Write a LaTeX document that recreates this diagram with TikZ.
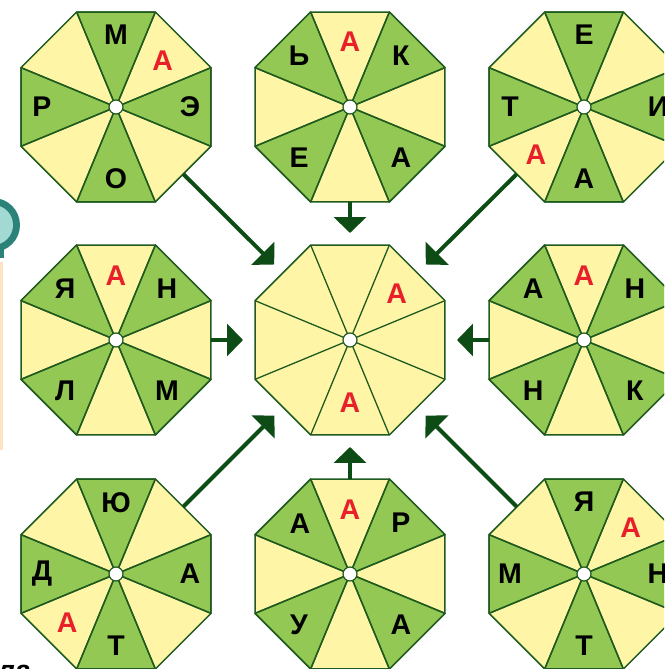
\documentclass[tikz,border=0pt]{standalone}
\usepackage{fontspec}
\setmainfont{Liberation Sans}
\usepackage{xcolor}
\usetikzlibrary{positioning, arrows.meta, shapes.geometric, calc}

\definecolor{leaf}{HTML}{92C853}
\definecolor{cream}{HTML}{FFF5A6}
\definecolor{rim}{HTML}{1F5A1F}
\definecolor{pine}{HTML}{0D4D15}
\definecolor{redA}{HTML}{E8202A}
\definecolor{tealdark}{HTML}{2B8279}
\definecolor{teallight}{HTML}{A3D9D3}
\definecolor{peach}{HTML}{FFE2BF}

\begin{document}
\begin{tikzpicture}[
    x=1pt, y=1pt,
    octo/.style={regular polygon, regular polygon sides=8, minimum size=205.6pt, inner sep=0pt, outer sep=0pt, draw=rim, line width=1.5pt, fill=cream},
    wedge/.style={fill=leaf, draw=rim, line width=1.5pt, line join=round},
    spoke/.style={draw=rim, line width=1.3pt},
    hub/.style={circle, draw=rim, fill=white, line width=1.2pt, minimum size=14pt, inner sep=0pt},
    ltr/.style={font=\fontsize{28.5}{28.5}\selectfont\bfseries, inner sep=0pt, text=black},
    redltr/.style={ltr, text=redA},
    arrow/.style={draw=pine, line width=4pt, -{Triangle[length=16pt, width=32pt]}, shorten >=12pt}
]
\useasboundingbox (0,0) rectangle (664,669);
\clip (0,0) rectangle (664,669);

\fill[tealdark] (-7,444) circle (27);
\fill[teallight] (-7,444) circle (20);
\fill[tealdark] (-4,411) rectangle (4,420);
\fill[peach] (0,219) rectangle (3,407);
\node[font=\fontsize{28.5}{28.5}\selectfont\bfseries\itshape, anchor=north west, inner sep=0pt] (tail) at (-3,4) {ла};

\node[octo] (o1) at (116,562) {};
\node[octo] (o2) at (350,562) {};
\node[octo] (o3) at (584,562) {};
\node[octo] (o4) at (116,329) {};
\node[octo] (o5) at (350,329) {};
\node[octo] (o6) at (584,329) {};
\node[octo] (o7) at (116,95) {};
\node[octo] (o8) at (350,95) {};
\node[octo] (o9) at (584,95) {};

\foreach \o/\s in {o1/45, o2/0, o3/45, o4/0, o6/0, o7/45, o8/0, o9/45}
  \foreach \a in {22.5, 112.5, 202.5, 292.5}
    \filldraw[wedge] (\o.center) -- ([shift={(\a+\s:102.8pt)}]\o.center) -- ([shift={(\a+\s+45:102.8pt)}]\o.center) -- cycle;

\foreach \o in {o1, o2, o3, o4, o5, o6, o7, o8, o9} {
  \foreach \a in {22.5, 67.5, ..., 337.5}
    \draw[spoke] (\o.center) -- ([shift={(\a:102.8pt)}]\o.center);
  \node[hub] (\o-hub) at (\o) {};
}

\node[ltr] (o1n) at ($(o1)+(90:72pt)$) {М};
\node[redltr] (o1ne) at ($(o1)+(45:66pt)$) {А};
\node[ltr] (o1e) at ($(o1)+(0:74pt)$) {Э};
\node[ltr] (o1s) at ($(o1)+(270:72pt)$) {О};
\node[ltr] (o1w) at ($(o1)+(180:74pt)$) {Р};

\node[redltr] (o2n) at ($(o2)+(90:65pt)$) {А};
\node[ltr] (o2ne) at ($(o2)+(45:72pt)$) {К};
\node[ltr] (o2se) at ($(o2)+(315:72pt)$) {А};
\node[ltr] (o2sw) at ($(o2)+(225:72pt)$) {Е};
\node[ltr] (o2nw) at ($(o2)+(135:72pt)$) {Ь};

\node[ltr] (o3n) at ($(o3)+(90:72pt)$) {Е};
\node[ltr] (o3e) at ($(o3)+(0:74pt)$) {И};
\node[ltr] (o3s) at ($(o3)+(270:72pt)$) {А};
\node[redltr] (o3sw) at ($(o3)+(225:68pt)$) {А};
\node[ltr] (o3w) at ($(o3)+(180:74pt)$) {Т};

\node[redltr] (o4n) at ($(o4)+(90:64pt)$) {А};
\node[ltr] (o4ne) at ($(o4)+(45:72pt)$) {Н};
\node[ltr] (o4se) at ($(o4)+(315:72pt)$) {М};
\node[ltr] (o4sw) at ($(o4)+(225:72pt)$) {Л};
\node[ltr] (o4nw) at ($(o4)+(135:72pt)$) {Я};

\node[redltr] (o5ne) at ($(o5)+(45:66pt)$) {А};
\node[redltr] (o5s) at ($(o5)+(270:63pt)$) {А};

\node[redltr] (o6n) at ($(o6)+(90:64pt)$) {А};
\node[ltr] (o6ne) at ($(o6)+(45:72pt)$) {Н};
\node[ltr] (o6se) at ($(o6)+(315:72pt)$) {К};
\node[ltr] (o6sw) at ($(o6)+(225:72pt)$) {Н};
\node[ltr] (o6nw) at ($(o6)+(135:72pt)$) {А};

\node[ltr] (o7n) at ($(o7)+(90:71pt)$) {Ю};
\node[ltr] (o7e) at ($(o7)+(0:74pt)$) {А};
\node[ltr] (o7s) at ($(o7)+(270:72pt)$) {Т};
\node[redltr] (o7sw) at ($(o7)+(225:69pt)$) {А};
\node[ltr] (o7w) at ($(o7)+(180:74pt)$) {Д};

\node[redltr] (o8n) at ($(o8)+(90:64pt)$) {А};
\node[ltr] (o8ne) at ($(o8)+(45:72pt)$) {Р};
\node[ltr] (o8se) at ($(o8)+(315:72pt)$) {А};
\node[ltr] (o8sw) at ($(o8)+(225:72pt)$) {У};
\node[ltr] (o8nw) at ($(o8)+(135:71pt)$) {А};

\node[ltr] (o9n) at ($(o9)+(90:72pt)$) {Я};
\node[redltr] (o9ne) at ($(o9)+(45:66pt)$) {А};
\node[ltr] (o9e) at ($(o9)+(0:74pt)$) {Н};
\node[ltr] (o9s) at ($(o9)+(270:72pt)$) {Т};
\node[ltr] (o9w) at ($(o9)+(180:74pt)$) {М};

\draw[arrow] (o1) -- (o5);
\draw[arrow] (o2) -- (o5);
\draw[arrow] (o3) -- (o5);
\draw[arrow] (o4) -- (o5);
\draw[arrow] (o6) -- (o5);
\draw[arrow] (o7) -- (o5);
\draw[arrow] (o8) -- (o5);
\draw[arrow] (o9) -- (o5);

\end{tikzpicture}
\end{document}
